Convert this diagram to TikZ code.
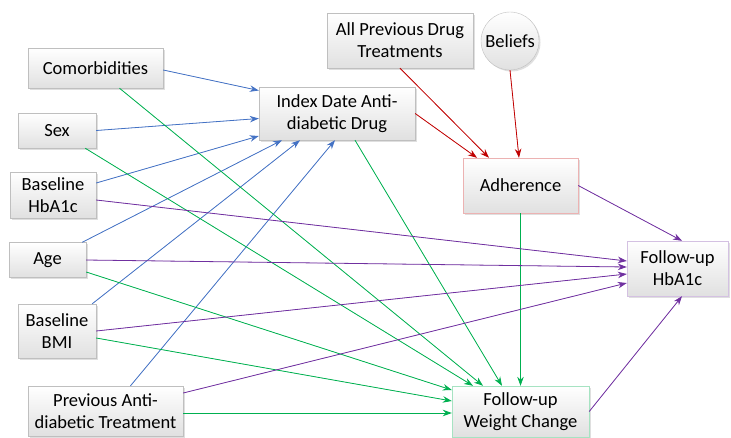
\documentclass[tikz,border=0pt]{standalone}
\usepackage{fontspec}
\setmainfont{Carlito}
\usepackage{tikz}
\usetikzlibrary{calc}
\usetikzlibrary{arrows.meta}
\usetikzlibrary{shadows}
\definecolor{bluel}{HTML}{4472C4}
\definecolor{greenl}{HTML}{00B050}
\definecolor{redl}{HTML}{C00000}
\definecolor{purplel}{HTML}{7030A0}
\tikzset{
	boxstyle/.style={rectangle,draw=black!25,top color=white,bottom color=black!12,align=center,inner sep=0pt,
		drop shadow={opacity=0.25,shadow xshift=1.5pt,shadow yshift=-1.5pt}},
	circstyle/.style={circle,draw=black!25,top color=white,bottom color=black!12,inner sep=0pt,minimum size=58pt,
		drop shadow={opacity=0.25,shadow xshift=1.5pt,shadow yshift=-1.5pt}},
	arr/.style={-{Stealth[length=9pt,width=6.5pt]},line width=0.8pt},
	bluearr/.style={arr,draw=bluel,fill=bluel},
	greenarr/.style={arr,draw=greenl,fill=greenl},
	redarr/.style={arr,draw=redl,fill=redl},
	purplearr/.style={arr,draw=purplel,fill=purplel}
}
\begin{document}
\begin{tikzpicture}[x=1pt,y=-1pt]
	\fontsize{18.5}{22}\selectfont
	\useasboundingbox (0,0) rectangle (731,437);
	\node[boxstyle,minimum width=135pt,minimum height=40pt] (com) at (95.5,68) {Comorbidities};
	\node[boxstyle,minimum width=78pt,minimum height=35pt] (sex) at (57,130.5) {Sex};
	\node[boxstyle,minimum width=86pt,minimum height=46pt] (hba) at (53,195) {Baseline\\HbA1c};
	\node[boxstyle,minimum width=77pt,minimum height=35pt] (age) at (47.5,260) {Age};
	\node[boxstyle,minimum width=78pt,minimum height=54pt] (bmi) at (57,331) {Baseline\\BMI};
	\node[boxstyle,minimum width=155pt,minimum height=50pt] (prev) at (105.5,411) {Previous Anti-\\diabetic Treatment};
	\node[boxstyle,minimum width=156pt,minimum height=53pt] (idx) at (337,113.5) {Index Date Anti-\\diabetic Drug};
	\node[boxstyle,minimum width=146pt,minimum height=55pt] (allp) at (400,40.5) {All Previous Drug\\Treatments};
	\node[circstyle] (bel) at (510,41) {Beliefs};
	\node[boxstyle,draw=redl!30,minimum width=115pt,minimum height=55pt] (adh) at (520.5,185.5) {Adherence};
	\node[boxstyle,draw=purplel!30,minimum width=101pt,minimum height=55pt] (fuh) at (677.5,268.5) {Follow-up\\HbA1c};
	\node[boxstyle,draw=greenl!35,minimum width=137pt,minimum height=51pt] (fwc) at (520.5,411.5) {Follow-up\\Weight Change};
	\draw[bluearr] ([yshift=-2pt]com.east) -- ([yshift=23pt]idx.west);
	\draw[bluearr] (sex.east) -- ([yshift=-5pt]idx.west);
	\draw[bluearr] ([yshift=12pt]hba.east) -- ([yshift=-22.5pt]idx.west);
	\draw[bluearr] ([xshift=-4pt]age.north east) -- ([xshift=-55pt]idx.south);
	\draw[bluearr] ([xshift=-4pt]bmi.north east) -- ([xshift=-37pt]idx.south);
	\draw[bluearr] ([xshift=25pt]prev.north) -- ([xshift=-2pt]idx.south);
	\draw[greenarr] ([xshift=24pt]com.south) -- ([xshift=-37.5pt]fwc.north);
	\draw[greenarr] ([xshift=-11pt]sex.south east) -- ([xshift=-47.5pt]fwc.north);
	\draw[greenarr] ([xshift=18pt]idx.south) -- ([xshift=-18.5pt]fwc.north);
	\draw[greenarr] (adh.south) -- (fwc.north);
	\draw[greenarr] ([yshift=-12pt]age.east) -- ([yshift=21.5pt]fwc.west);
	\draw[greenarr] ([yshift=-7pt]bmi.east) -- ([yshift=10.5pt]fwc.west);
	\draw[greenarr] ([yshift=-2pt]prev.east) -- ([yshift=-1.5pt]fwc.west);
	\draw[purplearr] ([yshift=-5pt]hba.east) -- ([yshift=7.5pt]fuh.west);
	\draw[purplearr] (age.east) -- ([yshift=1.5pt]fuh.west);
	\draw[purplearr] (bmi.east) -- ([yshift=-5.5pt]fuh.west);
	\draw[purplearr] ([yshift=18pt]prev.east) -- ([yshift=-14.5pt]fuh.west);
	\draw[purplearr] (adh.east) -- ([xshift=4.5pt]fuh.north);
	\draw[purplearr] (fwc.east) -- ([xshift=4.5pt]fuh.south);
	\draw[redarr] (idx.east) -- ([xshift=-43.5pt]adh.north);
	\draw[redarr] (allp.south) -- ([xshift=-31.5pt]adh.north);
	\draw[redarr] (bel.south) -- ([xshift=-1.5pt]adh.north);
\end{tikzpicture}
\end{document}
